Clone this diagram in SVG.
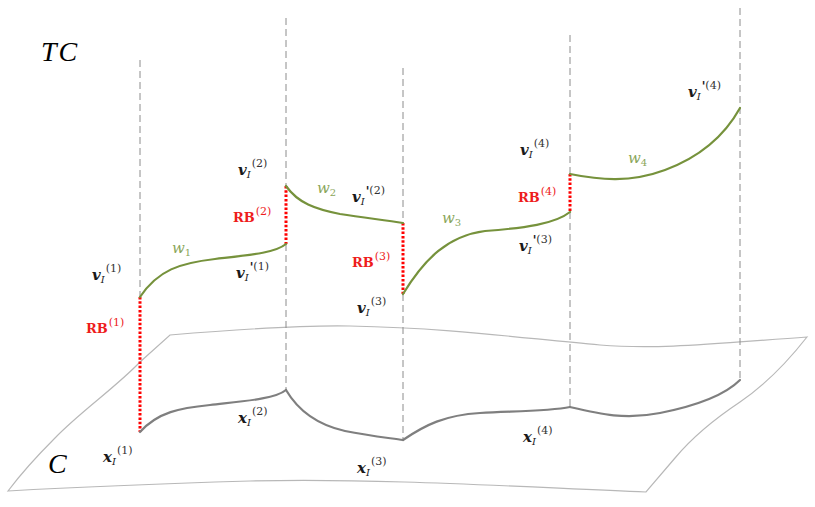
<svg xmlns="http://www.w3.org/2000/svg" width="815" height="507" viewBox="0 0 815 507">
<style>
.bg{fill:#ffffff}
.plane{fill:none;stroke:#b8b8b8;stroke-width:1.2}
.dash{fill:none;stroke:#8c8c8c;stroke-width:1;stroke-dasharray:7 4}
.rb{fill:none;stroke:#ff0000;stroke-width:3;stroke-dasharray:2.5 1.8}
.tc{fill:none;stroke:#76923c;stroke-width:2.2;stroke-linecap:round}
.cc{fill:none;stroke:#7f7f7f;stroke-width:2.2;stroke-linecap:round}
.big{font-family:"Liberation Serif","DejaVu Serif",serif;font-style:italic;font-size:28px;fill:#000;letter-spacing:2px}
.lb{font-family:"DejaVu Serif","Liberation Serif",serif;fill:#1a1a1a}
.m{font-size:15px;font-weight:bold;font-style:italic}
.s{font-size:10px;font-style:italic}
.p{font-size:11px;fill:#333}
.pr{font-size:12px;font-weight:bold;fill:#1a1a1a}
.red{fill:#ee1c1c}
.rbm{font-size:13px;font-weight:bold}
.grn{fill:#8aa65a}
.wm{font-size:15px;font-style:italic}
.ws{font-size:10px}
</style>
<rect class="bg" x="0" y="0" width="815" height="507"/>
<g id="plane-C">
<path class="plane" d="M170,335 C230,330 300,325 350,326 C450,328 520,338 600,345 C660,350 720,343 807,337 C785,365 765,385 740,402 C710,422 690,440 675,458 L646,492 C520,487 380,478 250,481 C150,484 60,488 8,491 C20,475 35,458 55,438 C80,412 115,388 140,362 Z"/>
</g>
<g id="connectors">
<line class="dash" x1="140" y1="60" x2="140" y2="297"/>
<line class="dash" x1="286" y1="18" x2="286" y2="186"/>
<line class="dash" x1="286" y1="244" x2="286" y2="390"/>
<line class="dash" x1="403" y1="68" x2="403" y2="223"/>
<line class="dash" x1="403" y1="294" x2="403" y2="440"/>
<line class="dash" x1="570" y1="35" x2="570" y2="174"/>
<line class="dash" x1="570" y1="212" x2="570" y2="407"/>
<line class="dash" x1="740" y1="8" x2="740" y2="380"/>
<line class="rb" x1="140" y1="297" x2="140" y2="432"/>
<line class="rb" x1="286" y1="186" x2="286" y2="244"/>
<line class="rb" x1="403" y1="223" x2="403" y2="294"/>
<line class="rb" x1="570" y1="174" x2="570" y2="212"/>
</g>
<g id="trajectory-TC">
<path id="w1" class="tc" d="M140,297 C158,270 180,263 215,259 C250,255 275,253 286,244"/>
<path id="w2" class="tc" d="M286,186 C298,203 315,209 340,214 C365,218 385,220 403,223"/>
<path id="w3" class="tc" d="M403,294 C425,258 448,236 485,231 C525,228 555,224 570,212"/>
<path id="w4" class="tc" d="M570,174 C600,180 630,183 665,170 C700,157 725,135 740,108"/>
</g>
<g id="trajectory-C">
<path class="cc" d="M140,432 C158,412 180,408 210,405 C245,401 275,399 286,390"/>
<path class="cc" d="M286,390 C299,412 318,425 345,431 C370,436 390,438 403,440"/>
<path class="cc" d="M403,440 C425,425 445,415 480,413 C520,411 550,411 570,407"/>
<path class="cc" d="M570,407 C600,414 625,420 660,413 C695,406 725,395 740,380"/>
</g>
<g id="titles">
<text class="big" x="41" y="61">TC</text>
<text class="big" x="48" y="473">C</text>
</g>
<g id="labels-v">
<text class="lb" x="92" y="280"><tspan class="m">v</tspan><tspan class="s" dy="3">I</tspan><tspan class="p" dy="-11" dx="1">(1)</tspan></text>
<text class="lb" x="236" y="278"><tspan class="m">v</tspan><tspan class="s" dy="3">I</tspan><tspan class="pr" dy="-9" dx="1">'</tspan><tspan class="p" dy="-2">(1)</tspan></text>
<text class="lb" x="238" y="175"><tspan class="m">v</tspan><tspan class="s" dy="3">I</tspan><tspan class="p" dy="-11" dx="1">(2)</tspan></text>
<text class="lb" x="352" y="202"><tspan class="m">v</tspan><tspan class="s" dy="3">I</tspan><tspan class="pr" dy="-9" dx="1">'</tspan><tspan class="p" dy="-2">(2)</tspan></text>
<text class="lb" x="357" y="313"><tspan class="m">v</tspan><tspan class="s" dy="3">I</tspan><tspan class="p" dy="-11" dx="1">(3)</tspan></text>
<text class="lb" x="519" y="251"><tspan class="m">v</tspan><tspan class="s" dy="3">I</tspan><tspan class="pr" dy="-9" dx="1">'</tspan><tspan class="p" dy="-2">(3)</tspan></text>
<text class="lb" x="520" y="155"><tspan class="m">v</tspan><tspan class="s" dy="3">I</tspan><tspan class="p" dy="-11" dx="1">(4)</tspan></text>
<text class="lb" x="688" y="97"><tspan class="m">v</tspan><tspan class="s" dy="3">I</tspan><tspan class="pr" dy="-9" dx="1">'</tspan><tspan class="p" dy="-2">(4)</tspan></text>
</g>
<g id="labels-rb">
<text class="lb red" x="86" y="333"><tspan class="rbm">RB</tspan><tspan class="p red" dy="-7" dx="1">(1)</tspan></text>
<text class="lb red" x="233" y="222"><tspan class="rbm">RB</tspan><tspan class="p red" dy="-7" dx="1">(2)</tspan></text>
<text class="lb red" x="352" y="267"><tspan class="rbm">RB</tspan><tspan class="p red" dy="-7" dx="1">(3)</tspan></text>
<text class="lb red" x="518" y="202"><tspan class="rbm">RB</tspan><tspan class="p red" dy="-7" dx="1">(4)</tspan></text>
</g>
<g id="labels-w">
<text class="lb grn" x="172" y="253"><tspan class="wm">w</tspan><tspan class="ws" dy="3">1</tspan></text>
<text class="lb grn" x="317" y="193"><tspan class="wm">w</tspan><tspan class="ws" dy="3">2</tspan></text>
<text class="lb grn" x="442" y="223"><tspan class="wm">w</tspan><tspan class="ws" dy="3">3</tspan></text>
<text class="lb grn" x="628" y="163"><tspan class="wm">w</tspan><tspan class="ws" dy="3">4</tspan></text>
</g>
<g id="labels-x">
<text class="lb" x="103" y="462"><tspan class="m">x</tspan><tspan class="s" dy="3">I</tspan><tspan class="p" dy="-11" dx="1">(1)</tspan></text>
<text class="lb" x="238" y="423"><tspan class="m">x</tspan><tspan class="s" dy="3">I</tspan><tspan class="p" dy="-11" dx="1">(2)</tspan></text>
<text class="lb" x="357" y="473"><tspan class="m">x</tspan><tspan class="s" dy="3">I</tspan><tspan class="p" dy="-11" dx="1">(3)</tspan></text>
<text class="lb" x="523" y="442"><tspan class="m">x</tspan><tspan class="s" dy="3">I</tspan><tspan class="p" dy="-11" dx="1">(4)</tspan></text>
</g>
</svg>
